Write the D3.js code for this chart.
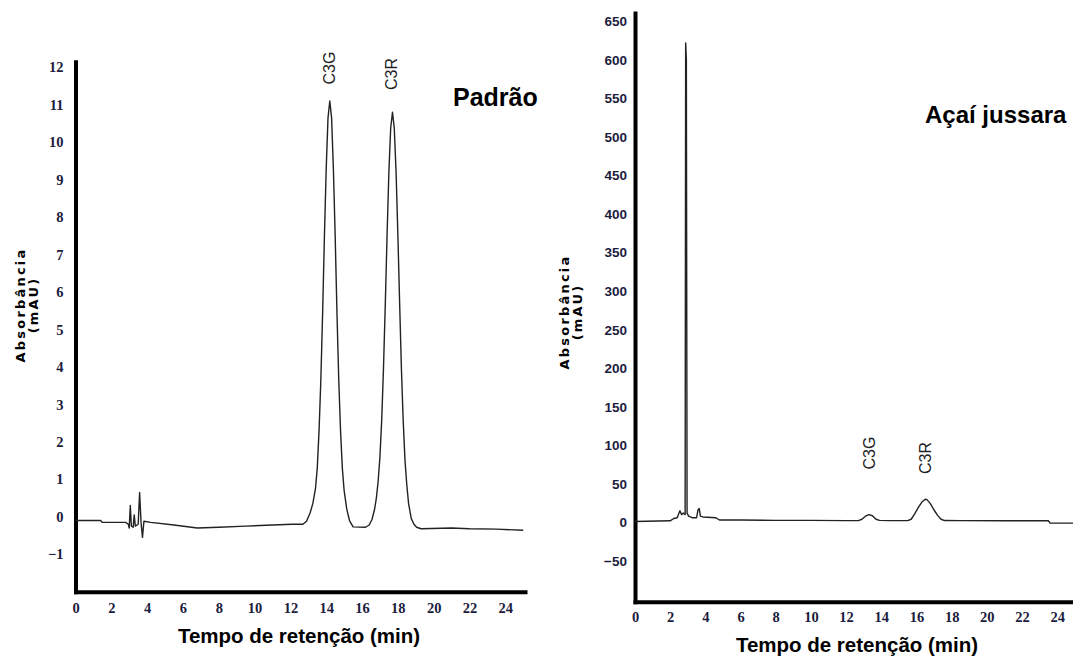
<!DOCTYPE html>
<html>
<head>
<meta charset="utf-8">
<script src="https://cdn.jsdelivr.net/npm/d3@7"></script>
<style>
  body { margin: 0; background: #fff; }
  .curve { fill: none; stroke: #222; stroke-width: 1.4; stroke-linejoin: round; }
  .axis path.domain { stroke: #000; stroke-width: 4; stroke-linecap: square; }
  .tick-serif text { font-family: "Liberation Serif", serif; font-weight: bold; font-size: 14.5px; fill: #1c1c3e; }
  .tick-sans text { font-family: "Liberation Sans", sans-serif; font-weight: bold; font-size: 13.5px; fill: #1c1c3e; }
  .peak-label { font-family: "Liberation Sans", sans-serif; font-size: 16px; fill: #222; }
  .title { font-family: "Liberation Sans", sans-serif; font-weight: bold; fill: #000; }
  .ytitle { font-family: "DejaVu Sans", sans-serif; font-weight: bold; font-size: 13px; letter-spacing: 2.2px; fill: #000; }
</style>
</head>
<body>
<div id="vis"></div>
<script>
/*
cromatogramas: padrão vs açaí jussara
*/
const FRAME_WIDTH = 1073;
const FRAME_HEIGHT = 660;

// x tick labels (min) - same on both panels
const timeTicks = [0, 2, 4, 6, 8, 10, 12, 14, 16, 18, 20, 22, 24];

// left panel: Padrão
const padraoTicksY = [-1, 0, 1, 2, 3, 4, 5, 6, 7, 8, 9, 10, 11, 12];
const padraoTime = [0, 1.4, 1.5, 2.8, 2.95, 3.0, 3.06, 3.12, 3.22, 3.28, 3.34, 3.5, 3.58, 3.66, 3.74, 3.82,
  4.2, 5.5, 6.8, 8.0, 9.5, 11.0, 12.1, 12.7, 12.9, 13.1, 13.25, 13.4, 13.5, 13.6, 13.7, 13.8, 13.9,
  14.0, 14.1, 14.2, 14.3, 14.4, 14.5, 14.6, 14.7, 14.8, 14.9, 15.0, 15.15, 15.3, 15.5, 16.2, 16.4,
  16.55, 16.7, 16.8, 16.9, 17.0, 17.1, 17.2, 17.3, 17.4, 17.5, 17.6, 17.7, 17.8, 17.9, 18.0, 18.1,
  18.2, 18.3, 18.4, 18.5, 18.6, 18.75, 18.9, 19.05, 19.3, 21.0, 22.0, 23.5, 25.0];
const padraoAbs = [-0.1, -0.1, -0.15, -0.15, -0.2, -0.3, 0.3, -0.25, -0.28, 0.05, -0.25, -0.2, 0.65, -0.15, -0.55, -0.12,
  -0.15, -0.22, -0.3, -0.28, -0.25, -0.22, -0.2, -0.2, -0.12, 0.1, 0.35, 0.75, 1.3, 2.3, 3.65, 5.45, 7.5,
  9.3, 10.65, 11.1, 10.65, 9.3, 7.5, 5.45, 3.65, 2.3, 1.3, 0.7, 0.2, -0.1, -0.27, -0.28, -0.22,
  -0.08, 0.2, 0.5, 0.95, 1.6, 2.6, 4.0, 5.7, 7.55, 9.22, 10.38, 10.8, 10.38, 9.22, 7.55, 5.7,
  3.94, 2.55, 1.5, 0.85, 0.35, -0.05, -0.2, -0.28, -0.32, -0.3, -0.32, -0.33, -0.36];
const padraoPeaks = ["C3G", "C3R"];
const padraoPeakTime = [14.2, 17.7];

// right panel: Açaí jussara
const acaiTicksY = [-50, 0, 50, 100, 150, 200, 250, 300, 350, 400, 450, 500, 550, 600, 650];
const acaiTime = [0, 2.0, 2.2, 2.4, 2.55, 2.65, 2.75, 2.85, 2.88, 2.92, 2.96, 3.05, 3.25, 3.5, 3.58, 3.65, 3.72, 3.85,
  4.6, 4.8, 6, 8, 10, 12, 12.7, 12.9, 13.1, 13.3, 13.5, 13.7, 13.9, 14.5, 15.5, 15.7, 15.9, 16.1,
  16.3, 16.5, 16.6, 16.8, 17.0, 17.2, 17.4, 17.6, 18.5, 21, 23.5, 23.6, 24.9];
const acaiAbs = [1, 2, 5, 6, 15, 10, 12, 10, 622, 600, 12, 8, 6, 6, 16, 18, 8, 7,
  6, 3, 3, 2.5, 2.5, 2.2, 2.2, 4, 8, 10, 8.5, 4, 2.5, 2.2, 2.2, 4, 11, 19,
  26, 30, 29.5, 24, 16, 9, 4, 2.3, 2.2, 2, 2, -1, -1];
const acaiPeaks = ["C3G", "C3R"];
const acaiPeakTime = [13.35, 16.55];

const SVG = d3.select("#vis")
              .append("svg")
                .attr("width", FRAME_WIDTH)
                .attr("height", FRAME_HEIGHT);

// ---------- left panel ----------
const X_LEFT = d3.scaleLinear().domain([0, 25.1]).range([75.5, 525]);
const Y_LEFT = d3.scaleLinear().domain([-2.0, 12.15]).range([591.7, 61.7]);

SVG.append("g")
    .attr("class", "axis tick-serif")
    .attr("transform", "translate(0," + Y_LEFT(-2.0) + ")")
    .call(d3.axisBottom(X_LEFT).tickValues(timeTicks).tickSize(0).tickSizeOuter(0).tickPadding(11));

SVG.append("g")
    .attr("class", "axis tick-serif")
    .attr("transform", "translate(" + X_LEFT(0) + ",0)")
    .call(d3.axisLeft(Y_LEFT).tickValues(padraoTicksY).tickSize(0).tickSizeOuter(0).tickPadding(12));

const lineLeft = d3.line()
                   .x((d, i) => X_LEFT(padraoTime[i]))
                   .y((d) => Y_LEFT(d));

SVG.append("path")
    .datum(padraoAbs)
    .attr("class", "curve")
    .attr("d", lineLeft);

// peak names sit above each apex, written bottom-to-top
SVG.selectAll("label-left")
    .data(padraoPeaks)
    .enter()
    .append("text")
      .attr("class", "peak-label")
      .attr("transform", (d, i) => "translate(" + (X_LEFT(padraoPeakTime[i]) + 5) + "," + (i == 0 ? 68 : 74) + ") rotate(-90)")
      .attr("text-anchor", "middle")
      .text((d) => d);

SVG.append("text")
    .attr("class", "title")
    .attr("x", 453).attr("y", 106)
    .attr("font-size", "25px")
    .text("Padrão");

SVG.append("text")
    .attr("class", "title")
    .attr("x", 299).attr("y", 643)
    .attr("text-anchor", "middle")
    .attr("font-size", "20.5px")
    .text("Tempo de retenção (min)");

const yTitleLeft = SVG.append("text")
    .attr("class", "ytitle")
    .attr("transform", "translate(25,305) rotate(-90)")
    .attr("text-anchor", "middle");
yTitleLeft.append("tspan").attr("x", 0).attr("dy", 0).text("Absorbância");
yTitleLeft.append("tspan").attr("x", 0).attr("dy", 12.5).text("(mAU)");

// ---------- right panel ----------
const X_RIGHT = d3.scaleLinear().domain([0, 24.9]).range([635, 1073]);
const Y_RIGHT = d3.scaleLinear().domain([-103, 661]).range([601.7, 13]);

SVG.append("g")
    .attr("class", "axis tick-serif")
    .attr("transform", "translate(0," + Y_RIGHT(-103) + ")")
    .call(d3.axisBottom(X_RIGHT).tickValues(timeTicks).tickSize(0).tickSizeOuter(0).tickPadding(10));

SVG.append("g")
    .attr("class", "axis tick-sans")
    .attr("transform", "translate(" + X_RIGHT(0) + ",0)")
    .call(d3.axisLeft(Y_RIGHT).tickValues(acaiTicksY).tickSize(0).tickSizeOuter(0).tickPadding(8));

const lineRight = d3.line()
                    .x((d, i) => X_RIGHT(acaiTime[i]))
                    .y((d) => Y_RIGHT(d));

SVG.append("path")
    .datum(acaiAbs)
    .attr("class", "curve")
    .attr("d", lineRight);

SVG.selectAll("label-right")
    .data(acaiPeaks)
    .enter()
    .append("text")
      .attr("class", "peak-label")
      .attr("transform", (d, i) => "translate(" + (X_RIGHT(acaiPeakTime[i]) + 5) + "," + (i == 0 ? 453 : 458) + ") rotate(-90)")
      .attr("text-anchor", "middle")
      .text((d) => d);

SVG.append("text")
    .attr("class", "title")
    .attr("x", 925).attr("y", 123)
    .attr("font-size", "24px")
    .text("Açaí jussara");

SVG.append("text")
    .attr("class", "title")
    .attr("x", 857).attr("y", 652)
    .attr("text-anchor", "middle")
    .attr("font-size", "20.5px")
    .text("Tempo de retenção (min)");

const yTitleRight = SVG.append("text")
    .attr("class", "ytitle")
    .attr("transform", "translate(569,312) rotate(-90)")
    .attr("text-anchor", "middle");
yTitleRight.append("tspan").attr("x", 0).attr("dy", 0).text("Absorbância");
yTitleRight.append("tspan").attr("x", 0).attr("dy", 12.5).text("(mAU)");
</script>
</body>
</html>
